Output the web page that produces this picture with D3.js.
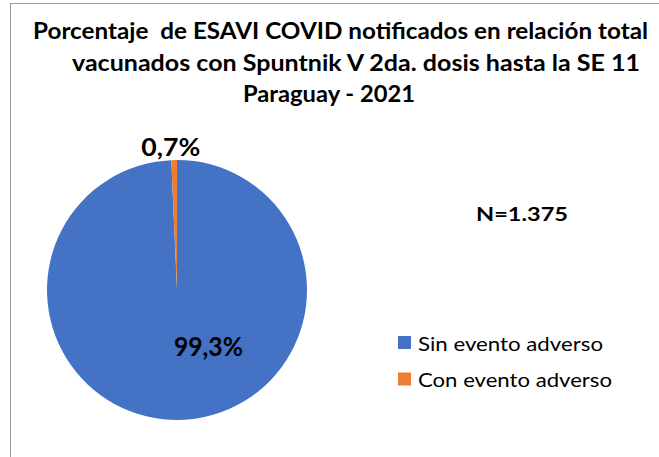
<!DOCTYPE html>
<html>
<head>
<meta charset="utf-8">
<script src="https://cdn.jsdelivr.net/npm/d3@7"></script>
<style>
  body { margin: 0; background: #fff; }
  svg { display: block; font-family: Lato, "Noto Sans", sans-serif; }
</style>
</head>
<body>
<script>
const categories = ["Sin evento adverso", "Con evento adverso"];
const values = [99.3, 0.7];
const labels = ["99,3%", "0,7%"];
const colors = ["#4472C4", "#ED7D31"];
const titleLines = [
  "Porcentaje  de ESAVI COVID notificados en relación total",
  "vacunados con Spuntnik V 2da. dosis hasta la SE 11",
  "Paraguay - 2021"
];
const totalLabel = "N=1.375";

const width = 659, height = 457;
const svg = d3.select("body").append("svg")
  .attr("width", width)
  .attr("height", height);

// chart frame (right and bottom edges are cut off in the picture)
svg.append("rect")
  .attr("x", 10.5).attr("y", 3.5)
  .attr("width", 700).attr("height", 500)
  .style("fill", "none")
  .style("stroke", "#9a9a9a")
  .style("stroke-width", 1);

// title
const titleX = [33, 72, 243];
const titleW = [615, 568, 172];
svg.selectAll(".title")
  .data(titleLines)
  .enter()
  .append("text")
  .attr("class", "title")
  .attr("x", (d, i) => titleX[i])
  .attr("y", (d, i) => 39 + i * 31.5)
  .attr("textLength", (d, i) => titleW[i])
  .attr("lengthAdjust", "spacingAndGlyphs")
  .style("white-space", "pre")
  .style("font-size", "22px")
  .style("font-weight", "bold")
  .style("fill", "#000")
  .text(d => d);

// pie
const cx = 177, cy = 290, r = 130;
const pie = d3.pie().sort(null).value(d => d);
const arcs = pie(values);
const arc = d3.arc().innerRadius(0).outerRadius(r);

const g = svg.append("g").attr("transform", `translate(${cx},${cy})`);
g.selectAll("path")
  .data(arcs)
  .enter()
  .append("path")
  .attr("d", arc)
  .style("fill", (d, i) => colors[i]);

// data labels
const inner = d3.arc().innerRadius(r * 0.5).outerRadius(r * 0.5);
const outer = d3.arc().innerRadius(r + 14).outerRadius(r + 14);
const labelShift = [[30, 1], [-3, 10]];
const labelSize = [26, 24];
const labelW = [69, 59];
g.selectAll(".lbl")
  .data(arcs)
  .enter()
  .append("text")
  .attr("class", "lbl")
  .attr("x", (d, i) => (i === 0 ? inner : outer).centroid(d)[0] + labelShift[i][0] - labelW[i] / 2)
  .attr("y", (d, i) => (i === 0 ? inner : outer).centroid(d)[1] + labelShift[i][1])
  .attr("textLength", (d, i) => labelW[i])
  .attr("lengthAdjust", "spacingAndGlyphs")
  .style("font-size", (d, i) => labelSize[i] + "px")
  .style("font-weight", "bold")
  .text((d, i) => labels[i]);

// N
svg.append("text")
  .attr("x", 476).attr("y", 221)
  .attr("textLength", 92)
  .attr("lengthAdjust", "spacingAndGlyphs")
  .style("font-size", "19px")
  .style("font-weight", "bold")
  .text(totalLabel);

// legend
const legend = svg.append("g").attr("transform", "translate(398,336)");
const item = legend.selectAll(".item")
  .data(categories)
  .enter()
  .append("g")
  .attr("transform", (d, i) => `translate(0,${i * 36.5})`);
item.append("rect")
  .attr("width", 13).attr("height", 13)
  .style("fill", (d, i) => colors[i]);
item.append("text")
  .attr("x", 20).attr("y", 14.5)
  .attr("textLength", (d, i) => i === 0 ? 185 : 194)
  .attr("lengthAdjust", "spacingAndGlyphs")
  .style("font-size", "19px")
  .style("fill", "#000")
  .text(d => d);
</script>
</body>
</html>
